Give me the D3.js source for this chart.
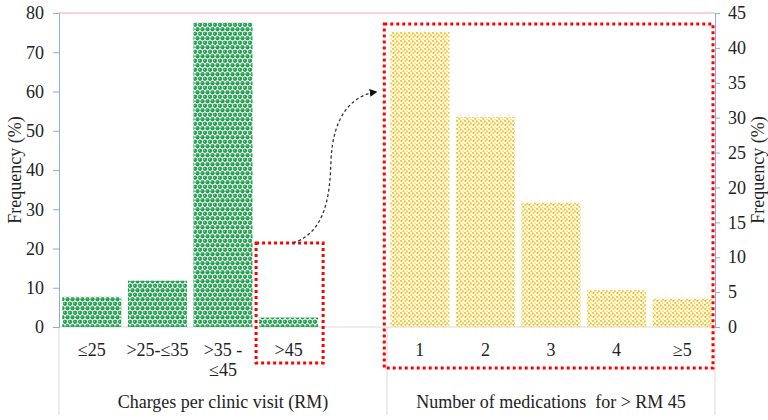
<!DOCTYPE html>
<html>
<head>
<meta charset="utf-8">
<script src="https://cdn.jsdelivr.net/npm/d3@7"></script>
<style>
  body { margin: 0; background: #fff; }
  svg text { font-family: "Liberation Serif", "DejaVu Serif", serif; fill: #222; white-space: pre; }
</style>
</head>
<body>
<div id="chart"></div>
<script>
// Data
var leftCategories = ["≤25", ">25-≤35", ">35 -|≤45", ">45"];
var leftValues = [7.7, 11.8, 77.6, 2.4];
var rightCategories = ["1", "2", "3", "4", "≥5"];
var rightValues = [42.3, 30.1, 17.8, 5.3, 4.0];
var leftTicks = [0, 10, 20, 30, 40, 50, 60, 70, 80];
var rightTicks = [0, 5, 10, 15, 20, 25, 30, 35, 40, 45];
var leftTitle = "Charges per clinic visit (RM)";
var rightTitle = "Number of medications  for > RM 45";
var yTitle = "Frequency (%)";

var w = 768, h = 420;
var serif = "Liberation Serif, DejaVu Serif, serif";
// plot edges (avoid "top", it is window.top)
var plotL = 59, plotR = 715, plotT = 13, plotB = 327;

var svg = d3.select("#chart").append("svg")
    .attr("width", w)
    .attr("height", h)
    .attr("font-family", serif);

// one band scale for both groups, with an empty slot between them
var gapKey = "__gap";
var xScale = d3.scaleBand()
    .domain(leftCategories.concat([gapKey], rightCategories))
    .range([plotL, plotR])
    .paddingInner(0.1)
    .paddingOuter(0.05);

var yLeft = d3.scaleLinear().domain([0, 80]).range([plotB, plotT]);
var yRight = d3.scaleLinear().domain([0, 45]).range([plotB, plotT]);

// patterns
var defs = svg.append("defs");
var pg = defs.append("pattern")
    .attr("id", "greenDots")
    .attr("patternUnits", "userSpaceOnUse")
    .attr("width", 5).attr("height", 9);
[[2.5, 2.25], [0, 6.75], [5, 6.75]].forEach(function(p) {
    pg.append("circle").attr("cx", p[0]).attr("cy", p[1]).attr("r", 1.9)
        .attr("fill", "#17a24a").attr("stroke", "#0d7f36").attr("stroke-width", 0.4);
    pg.append("circle").attr("cx", p[0] - 0.5).attr("cy", p[1] - 0.5).attr("r", 0.6)
        .attr("fill", "#9be3b0");
});

var py = defs.append("pattern")
    .attr("id", "yellowDots")
    .attr("patternUnits", "userSpaceOnUse")
    .attr("width", 8).attr("height", 8);
[[0, 0, "#f6c400"], [4, 0.5, "#f3b51c"], [2, 2, "#fbd54a"], [6, 2.5, "#f6c400"],
 [0.5, 4, "#f0a928"], [4.5, 4, "#f8cc20"], [2.5, 6, "#f6c400"], [6, 6.5, "#fde07a"]]
    .forEach(function(s) {
        py.append("rect").attr("x", s[0]).attr("y", s[1])
            .attr("width", 1.8).attr("height", 1.8).attr("fill", s[2]);
    });

// top border line
svg.append("line")
    .attr("x1", plotL).attr("x2", plotR)
    .attr("y1", plotT).attr("y2", plotT)
    .attr("stroke", "#e9aab4").attr("stroke-width", 1.2);

// baseline and group separators
svg.append("line")
    .attr("x1", plotL).attr("x2", plotR)
    .attr("y1", plotB).attr("y2", plotB)
    .attr("stroke", "#d9d9d9").attr("stroke-width", 1);

var sepX = [plotL, xScale(rightCategories[0]) - xScale.step() * xScale.paddingInner() / 2, plotR];
svg.selectAll("line.sep")
    .data(sepX)
    .enter().append("line")
    .attr("class", "sep")
    .attr("x1", function(d) { return d; }).attr("x2", function(d) { return d; })
    .attr("y1", plotB).attr("y2", 415)
    .attr("stroke", "#d9d9d9").attr("stroke-width", 1);

// left axis
var axisL = svg.append("g")
    .attr("transform", "translate(" + plotL + ",0)")
    .call(d3.axisLeft(yLeft).tickValues(leftTicks).tickSize(6).tickPadding(9));
axisL.attr("font-family", serif);
axisL.select(".domain").attr("stroke", "#8faadc");
axisL.selectAll(".tick line").attr("stroke", "#8faadc");
axisL.selectAll("text").attr("font-size", "18px").attr("fill", "#222");

// right axis
var axisR = svg.append("g")
    .attr("transform", "translate(" + plotR + ",0)")
    .call(d3.axisRight(yRight).tickValues(rightTicks).tickSize(5).tickPadding(8));
axisR.attr("font-family", serif);
axisR.select(".domain").attr("stroke", "#8faadc");
axisR.selectAll(".tick line").attr("stroke", "#8faadc");
axisR.selectAll("text").attr("font-size", "18px").attr("fill", "#222");

// bars
svg.selectAll("rect.left-bar")
    .data(leftValues)
    .enter().append("rect")
    .attr("class", "left-bar")
    .attr("x", function(d, i) { return xScale(leftCategories[i]); })
    .attr("y", function(d) { return yLeft(d); })
    .attr("width", xScale.bandwidth())
    .attr("height", function(d) { return plotB - yLeft(d); })
    .attr("fill", "url(#greenDots)");

svg.selectAll("rect.right-bar")
    .data(rightValues)
    .enter().append("rect")
    .attr("class", "right-bar")
    .attr("x", function(d, i) { return xScale(rightCategories[i]); })
    .attr("y", function(d) { return yRight(d); })
    .attr("width", xScale.bandwidth())
    .attr("height", function(d) { return plotB - yRight(d); })
    .attr("fill", "url(#yellowDots)");

// category labels (| marks a line break)
var cats = leftCategories.concat(rightCategories);
var catLabels = svg.selectAll("text.cat")
    .data(cats)
    .enter().append("text")
    .attr("class", "cat")
    .attr("text-anchor", "middle")
    .attr("font-size", "18px")
    .attr("x", function(d) { return xScale(d) + xScale.bandwidth() / 2; })
    .attr("y", 356);
catLabels.each(function(d) {
    var parts = d.split("|");
    var t = d3.select(this);
    parts.forEach(function(p, i) {
        t.append("tspan")
            .attr("x", xScale(d) + xScale.bandwidth() / 2)
            .attr("dy", i === 0 ? 0 : 20)
            .text(p);
    });
});

// group titles
svg.append("text")
    .attr("x", (plotL + sepX[1]) / 2).attr("y", 408)
    .attr("text-anchor", "middle").attr("font-size", "18px")
    .text(leftTitle);
svg.append("text")
    .attr("x", (sepX[1] + plotR) / 2).attr("y", 408)
    .attr("text-anchor", "middle").attr("font-size", "18px")
    .text(rightTitle);

// y titles
svg.append("text")
    .attr("transform", "translate(21," + (plotT + plotB) / 2 + ") rotate(-90)")
    .attr("text-anchor", "middle").attr("font-size", "18px")
    .text(yTitle);
svg.append("text")
    .attr("transform", "translate(764," + (plotT + plotB) / 2 + ") rotate(-90)")
    .attr("text-anchor", "middle").attr("font-size", "18px")
    .text(yTitle);

// red dotted highlight boxes
var lastLeft = leftCategories[leftCategories.length - 1];
svg.append("rect")
    .attr("x", xScale(lastLeft) - 3)
    .attr("y", 243)
    .attr("width", xScale.bandwidth() + 8)
    .attr("height", 120)
    .attr("fill", "none")
    .attr("stroke", "#ff0000").attr("stroke-width", 3)
    .attr("stroke-dasharray", "3,3");
svg.append("rect")
    .attr("x", xScale(rightCategories[0]) - 6)
    .attr("y", 24)
    .attr("width", plotR - 2 - (xScale(rightCategories[0]) - 6))
    .attr("height", 344)
    .attr("fill", "none")
    .attr("stroke", "#ff0000").attr("stroke-width", 3)
    .attr("stroke-dasharray", "3,3");

// dashed curved arrow
defs.append("marker")
    .attr("id", "arrowHead")
    .attr("viewBox", "0 0 10 10")
    .attr("refX", 8).attr("refY", 5)
    .attr("markerWidth", 6).attr("markerHeight", 6)
    .attr("orient", "auto")
    .append("path")
    .attr("d", "M0,0 L10,5 L0,10 z")
    .attr("fill", "#111");
svg.append("path")
    .attr("d", "M293,243 C326,232 330,195 331,160 C333,118 350,96 376,92")
    .attr("fill", "none")
    .attr("stroke", "#333").attr("stroke-width", 1.3)
    .attr("stroke-dasharray", "3,2.5")
    .attr("marker-end", "url(#arrowHead)");
</script>
</body>
</html>
